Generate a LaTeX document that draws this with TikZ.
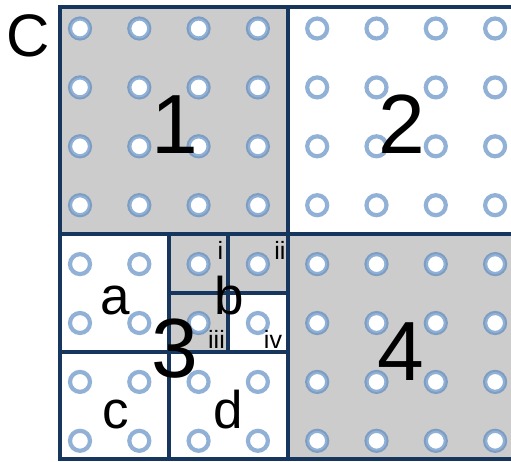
\documentclass[tikz,border=0pt]{standalone}
\usepackage{fontspec}
\setmainfont{Liberation Sans}
\definecolor{navy}{HTML}{17365D}
\definecolor{ring}{HTML}{4F81BD}
\definecolor{shade}{HTML}{CCCCCC}
\tikzset{
  gridline/.style={draw=navy, line width=3.1pt},
  shadebox/.style={fill=shade},
  hole/.style={draw=ring, draw opacity=0.62, fill=white, line width=4.2pt},
  lbl/.style={anchor=base, inner sep=0pt, text=black},
  big/.style={lbl, font=\fontsize{84}{84}\selectfont},
  mid/.style={lbl, font=\fontsize{53}{53}\selectfont},
  small/.style={lbl, font=\fontsize{25}{25}\selectfont},
}
\begin{document}
\begin{tikzpicture}[x=1pt, y=-1pt]
\useasboundingbox (0,0) rectangle (511,461);
\begin{scope}
\clip (0,0) rectangle (511,461);
% shaded areas
\fill[shadebox] (60,7) rectangle (288,234);
\fill[shadebox] (288,234) rectangle (516,459);
\fill[shadebox] (169,234) rectangle (288,293);
\fill[shadebox] (169,293) rectangle (228,352);
% holes
\foreach \i in {0,...,7} {
  \foreach \j in {0,...,7} {
    \path[hole] ({80+59.3*\i},{28.5+58.9*\j}) circle (10);
  }
}
% borders
\draw[gridline] (60,7) rectangle (516,459);
\draw[gridline] (288,7) -- (288,459);
\draw[gridline] (60,234) -- (516,234);
\draw[gridline] (169,234) -- (169,459);
\draw[gridline] (60,352) -- (288,352);
\draw[gridline] (228,234) -- (228,352);
\draw[gridline] (169,293) -- (288,293);
\end{scope}
% labels
\node[lbl, font=\fontsize{60}{60}\selectfont] (lC) at (28,56) {C};
\node[big] (l1) at (174.6,153) {1};
\node[big] (l2) at (402,153) {2};
\node[big] (l3) at (175,377) {3};
\node[big] (l4) at (400.5,380) {4};
\node[mid] (la) at (115,314) {a};
\node[mid] (lb) at (229.5,314) {b};
\node[mid] (lc) at (115.5,428) {c};
\node[mid] (ld) at (228.5,428) {d};
\node[small] (li) at (220.5,259) {i};
\node[small] (lii) at (280,259) {ii};
\node[small] (liii) at (216.5,348) {iii};
\node[small] (liv) at (273,348) {iv};
\end{tikzpicture}
\end{document}
